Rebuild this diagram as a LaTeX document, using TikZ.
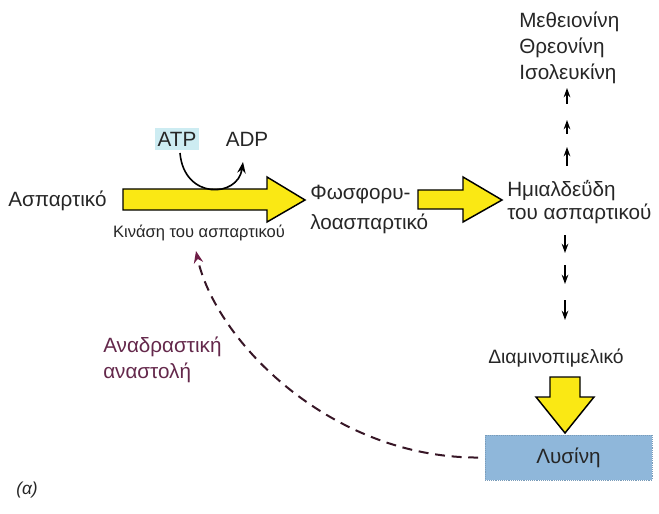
\documentclass[tikz,border=0pt]{standalone}
\usepackage{fontspec}
\setmainfont{Liberation Sans}
\usepackage{xcolor}
\definecolor{arrowyellow}{RGB}{250,232,20}
\definecolor{atpcyan}{RGB}{205,236,242}
\definecolor{lysblue}{RGB}{143,183,218}
\definecolor{fbmaroon}{RGB}{110,30,70}
\definecolor{fbdark}{RGB}{55,22,38}
\definecolor{fbtext}{RGB}{100,40,75}
\usetikzlibrary{arrows.meta}
\tikzset{>=Stealth}
\tikzset{
  name text/.style={font=\fontsize{15.5}{22.5}\selectfont, text=black!85, inner sep=0pt, align=left},
  block arrow/.style={fill=arrowyellow, draw=black, line width=1.1pt, line join=miter},
  small arrow/.style={-{Stealth[length=7pt,width=5pt]}, line width=1.1pt},
  feedback/.style={dashed, dash pattern=on 7.5pt off 5pt, line width=1.5pt, fbdark,
    -{Stealth[length=9pt,width=7pt,fbmaroon]}},
}

\begin{document}
\begin{tikzpicture}[x=0.75pt,y=-0.75pt]
    \useasboundingbox (0,0) rectangle (659,513);
    % substances
    \node[name text,anchor=west] (asp) at (8,201) {Ασπαρτικό};
    \node[name text,anchor=west] (fosf) at (310,209) {Φωσφορυ-\\λοασπαρτικό};
    \node[name text,anchor=west,font=\fontsize{15.5}{17.5}\selectfont] (hmi) at (507,202) {Ημιαλδεΰδη\\του ασπαρτικού};
    \node[name text,anchor=west,font=\fontsize{15.5}{19.5}\selectfont] (met) at (519,48)
        {Μεθειονίνη\\Θρεονίνη\\Ισολευκίνη};
    \node[name text,font=\fontsize{14.5}{17}\selectfont] (diam) at (556,358) {Διαμινοπιμελικό};
    \node[name text,fill=lysblue,draw=lysblue!85!black,densely dotted,thin,
        minimum width=125pt,minimum height=34pt] (lys) at (568.5,457.5) {Λυσίνη};
    \node[name text,fill=atpcyan,inner xsep=2pt,inner ysep=3pt] (atp) at (177,139) {ATP};
    \node[name text] (adp) at (247,139) {ADP};
    \node[name text,font=\fontsize{12.4}{14}\selectfont] (kin) at (199,233) {Κινάση του ασπαρτικού};
    \node[name text,text=fbtext,anchor=west,font=\fontsize{15.5}{19.5}\selectfont] (fb) at (103,360) {Αναδραστική\\αναστολή};
    \node[name text,font=\fontsize{13}{15}\itshape] (lbl) at (27,490) {(α)};
    % yellow block arrows
    \draw[block arrow] (123,189) -- (267,189) -- (267,177) -- (305,200)
        -- (267,222) -- (267,210) -- (123,210) -- cycle;
    \draw[block arrow] (418,190) -- (463,190) -- (463,177) -- (502,200)
        -- (463,222) -- (463,209) -- (418,209) -- cycle;
    \draw[block arrow] (550,377) -- (580,377) -- (580,397) -- (594,397)
        -- (565,433) -- (536,397) -- (550,397) -- cycle;
    % ATP -> ADP
    \draw[line width=1.2pt,->] (180,153) .. controls (184,200) and (238,198) .. (243,162);
    % small steps
    \foreach \ya/\yb in {104/88, 134/120, 166/147}
        \draw[small arrow] (567,\ya) -- (567,\yb);
    \foreach \ya/\yb in {235/253, 265/284, 300/320}
        \draw[small arrow] (565,\ya) -- (565,\yb);
    % feedback
    \coordinate (fbtip) at (196,251);
    \draw[feedback,shorten <=5pt] (lys.west) .. controls (330,458) and (215,340) .. (fbtip);
\end{tikzpicture}
\end{document}
